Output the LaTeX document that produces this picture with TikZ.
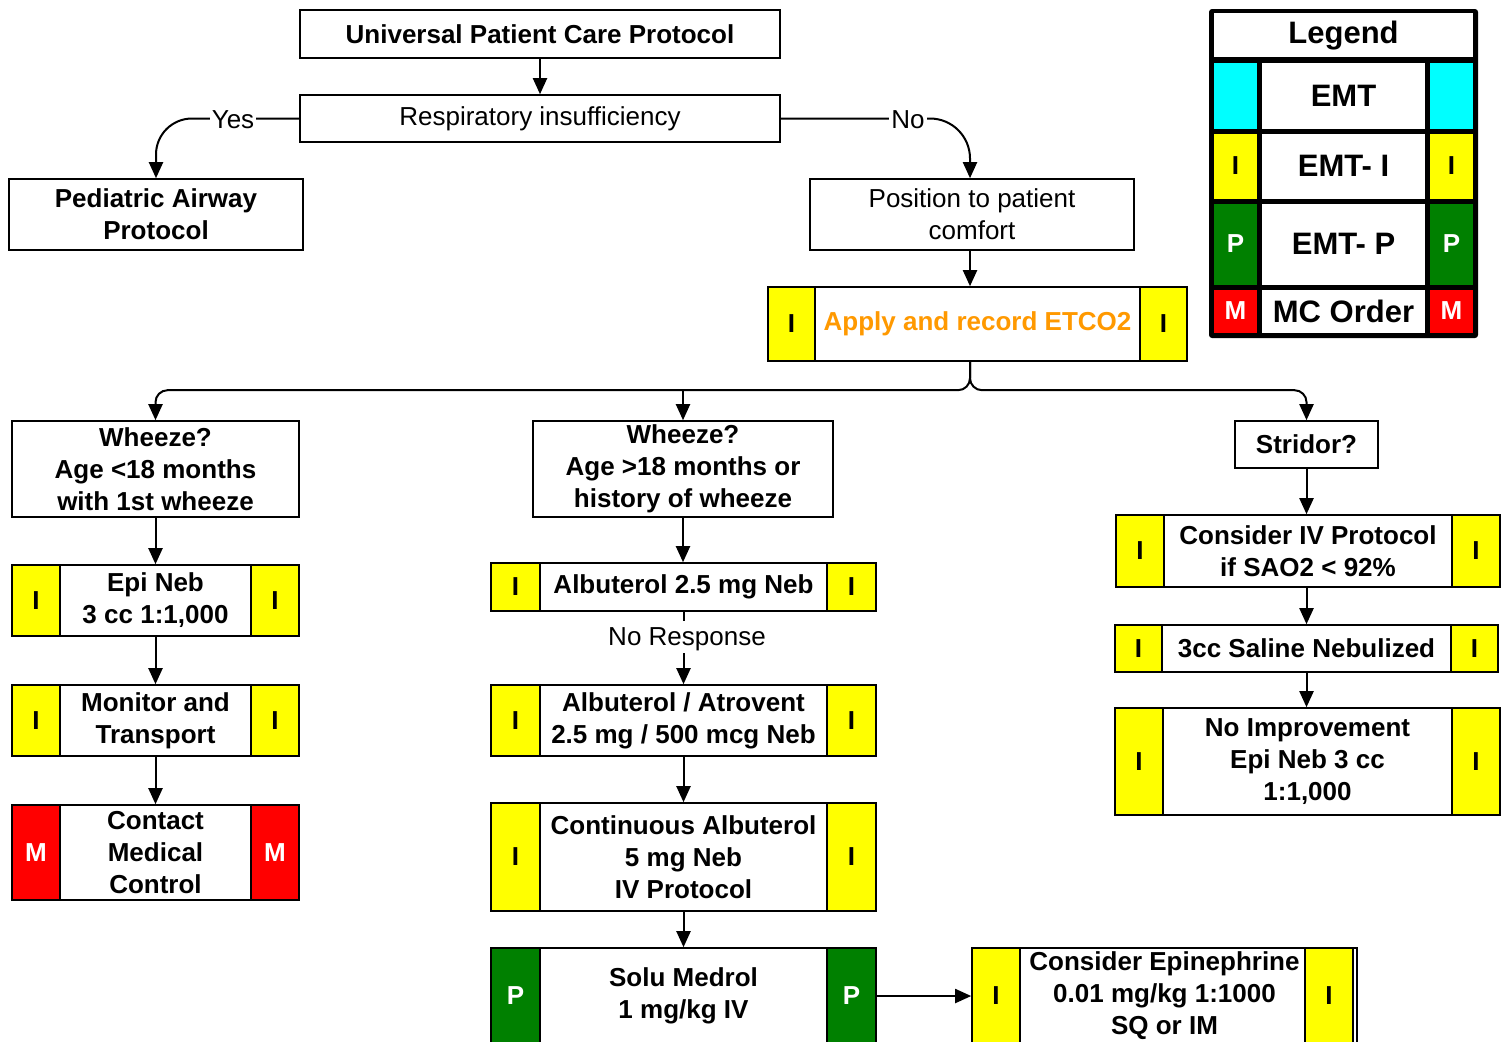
\documentclass[tikz,border=0pt]{standalone}
\usepackage{fontspec}
\setmainfont{Liberation Sans}
\usetikzlibrary{arrows.meta}
\definecolor{cyanL}{RGB}{0,255,255}
\definecolor{yel}{RGB}{255,255,0}
\definecolor{grn}{RGB}{0,128,0}
\definecolor{rd}{RGB}{255,0,0}
\definecolor{org}{RGB}{255,153,0}
\tikzset{
 box/.style={draw=black, line width=0.8pt, fill=white, inner sep=0pt, align=center, font=\fontsize{13}{16}\selectfont\bfseries},
 plain/.style={font=\fontsize{13}{16}\selectfont\mdseries},
 side/.style={draw=black, line width=0.8pt, inner sep=0pt, font=\fontsize{13}{16}\selectfont\bfseries},
 conn/.style={line width=1pt, -{Triangle[length=8pt,width=7pt]}},
 lbl/.style={fill=white, inner sep=1pt, font=\fontsize{13}{16}\selectfont},
 legtxt/.style={inner sep=0pt, font=\fontsize{15.5}{18}\selectfont\bfseries},
 legltr/.style={inner sep=0pt, font=\fontsize{13}{16}\selectfont\bfseries},
}
\newcommand\mkbox[7][]{%
  \pgfmathsetmacro\bw{(#5-#3)*0.5}%
  \pgfmathsetmacro\bh{(#6-#4)*0.5}%
  \node[box,minimum width=\bw pt,minimum height=\bh pt,#1] (#2) at ({(#3+#5)/2},{(#4+#6)/2}) {#7};}
\newcommand\sides[9]{%
  \pgfmathsetmacro\sh{(#5-#3)*0.5}%
  \pgfmathsetmacro\sw{#6*0.5}%
  \node[side,fill=#7,text=#8,minimum width=\sw pt,minimum height=\sh pt] (#1-l) at ({#2+#6/2},{(#3+#5)/2}) {#9};
  \node[side,fill=#7,text=#8,minimum width=\sw pt,minimum height=\sh pt] (#1-r) at ({#4-#6/2},{(#3+#5)/2}) {#9};}
\begin{document}
\begin{tikzpicture}[x=0.5pt,y=-0.5pt]
\useasboundingbox (0,0) rectangle (1502,1041);
\fill[white] (0,0) rectangle (1502,1041);

% boxes
\mkbox{upc}{300}{10}{780}{58}{Universal Patient Care Protocol}
\mkbox[plain]{resp}{300}{95}{780}{142}{Respiratory insufficiency}
\mkbox{ped}{9}{179}{303}{250}{Pediatric Airway\\Protocol}
\mkbox[plain]{pos}{810}{179}{1134}{250}{Position to patient\\comfort}
\mkbox[text=org]{et}{768}{287}{1187}{361}{Apply and record ETCO2}
\sides{et}{768}{287}{1187}{361}{47}{yel}{black}{I}

\mkbox{w1}{12}{421}{299}{517}{Wheeze?\\Age <18 months\\with 1st wheeze}
\mkbox{w2}{533}{421}{833}{517}{Wheeze?\\Age >18 months or\\history of wheeze}
\mkbox{str}{1235}{421}{1378}{468}{Stridor?}

\mkbox{epi}{12}{565}{299}{636}{Epi Neb\\3 cc 1:1,000}
\sides{epi}{12}{565}{299}{636}{48}{yel}{black}{I}
\mkbox{mon}{12}{685}{299}{756}{Monitor and\\Transport}
\sides{mon}{12}{685}{299}{756}{48}{yel}{black}{I}
\mkbox{con}{12}{805}{299}{900}{Contact\\Medical\\Control}
\sides{con}{12}{805}{299}{900}{48}{rd}{white}{M}

\mkbox{a1}{491}{563}{876}{611}{Albuterol 2.5 mg Neb}
\sides{a1}{491}{563}{876}{611}{49}{yel}{black}{I}
\mkbox{a2}{491}{685}{876}{756}{Albuterol / Atrovent\\2.5 mg / 500 mcg Neb}
\sides{a2}{491}{685}{876}{756}{49}{yel}{black}{I}
\mkbox{cont}{491}{803}{876}{911}{Continuous Albuterol\\5 mg Neb\\IV Protocol}
\sides{cont}{491}{803}{876}{911}{49}{yel}{black}{I}
\mkbox{solu}{491}{948}{876}{1044}{Solu Medrol\\1 mg/kg IV}
\sides{solu}{491}{948}{876}{1044}{49}{grn}{white}{P}
\mkbox{cepi}{972}{948}{1357}{1044}{Consider Epinephrine\\0.01 mg/kg 1:1000\\SQ or IM}
\sides{cepi}{972}{948}{1353}{1044}{48}{yel}{black}{I}

\mkbox{civ}{1116}{515}{1500}{587}{Consider IV Protocol\\if SAO2 < 92\%}
\sides{civ}{1116}{515}{1500}{587}{48}{yel}{black}{I}
\mkbox{sal}{1115}{625}{1498}{672}{3cc Saline Nebulized}
\sides{sal}{1115}{625}{1498}{672}{47}{yel}{black}{I}
\mkbox{noi}{1115}{708}{1500}{815}{No Improvement\\Epi Neb 3 cc\\1:1,000}
\sides{noi}{1115}{708}{1500}{815}{48}{yel}{black}{I}

% connectors
\draw[conn] (upc) -- (resp);
\draw[conn, rounded corners=18pt] (resp.west) -- (ped.north |- resp.west) -- (ped.north);
\node[lbl] (yes) at (233,120) {Yes};
\draw[conn, rounded corners=20pt] (resp.east) -- ([xshift=-1pt]pos.north |- resp.east) -- ([xshift=-1pt]pos.north);
\node[lbl] (no) at (908,120) {No};
\draw[conn] ([xshift=-1pt]pos.south) -- ([xshift=-1pt]pos.south |- et.north);
\coordinate (fork) at ([xshift=-1pt]pos.south |- et.south);
\draw[conn, rounded corners=6pt] (fork) |- ([yshift=15pt]w1.north) -- (w1.north);
\draw[conn, rounded corners=6pt] (fork) |- ([yshift=15pt]str.north) -- (str.north);
\draw[conn] ([yshift=15pt]w2.north) -- (w2.north);

\draw[conn] (w1) -- (epi);
\draw[conn] (epi) -- (mon);
\draw[conn] (mon) -- (con);

\draw[conn] (w2.south) -- (w2.south |- a1.north);
\node[lbl, inner sep=0pt] (nr) at (687,639) {No Response};
\draw[line width=1pt] (a1.south) -- ([yshift=3pt]a1.south |- nr.north);
\draw[conn] ([yshift=-1pt]a1.south |- nr.south) -- (a2.north);
\draw[conn] (a2) -- (cont);
\draw[conn] (cont) -- (solu.north);
\draw[conn] (solu.east) -- (cepi.west);

\draw[conn] (str.south) -- (str.south |- civ.north);
\draw[conn] (str.south |- civ.south) -- (str.south |- sal.north);
\draw[conn] (str.south |- sal.south) -- (str.south |- noi.north);

% legend
\fill[black, rounded corners=1.5pt] (1209,9) rectangle (1478,338);
\fill[white] (1214,13) rectangle (1473,57);
\node[legtxt] (lgh) at (1343.5,36) {Legend};
\fill[cyanL] (1214,63) rectangle (1257,129);
\fill[white] (1262,63) rectangle (1425,129);
\fill[cyanL] (1430,63) rectangle (1473,129);
\node[legtxt] (lg1) at (1343.5,96) {EMT};
\fill[yel] (1214,134) rectangle (1257,199);
\fill[white] (1262,134) rectangle (1425,199);
\fill[yel] (1430,134) rectangle (1473,199);
\node[legtxt] (lg2) at (1343.5,166) {EMT- I};
\node[legltr] (lg2l) at (1235.5,166) {I};
\node[legltr] (lg2r) at (1451.5,166) {I};
\fill[grn] (1214,204) rectangle (1257,285);
\fill[white] (1262,204) rectangle (1425,285);
\fill[grn] (1430,204) rectangle (1473,285);
\node[legtxt] (lg3) at (1343.5,244) {EMT- P};
\node[legltr, text=white] (lg3l) at (1235.5,244) {P};
\node[legltr, text=white] (lg3r) at (1451.5,244) {P};
\fill[rd] (1214,290) rectangle (1257,333);
\fill[white] (1262,290) rectangle (1425,333);
\fill[rd] (1430,290) rectangle (1473,333);
\node[legtxt] (lg4) at (1343.5,311) {MC Order};
\node[legltr, text=white] (lg4l) at (1235.5,311) {M};
\node[legltr, text=white] (lg4r) at (1451.5,311) {M};
\end{tikzpicture}
\end{document}
